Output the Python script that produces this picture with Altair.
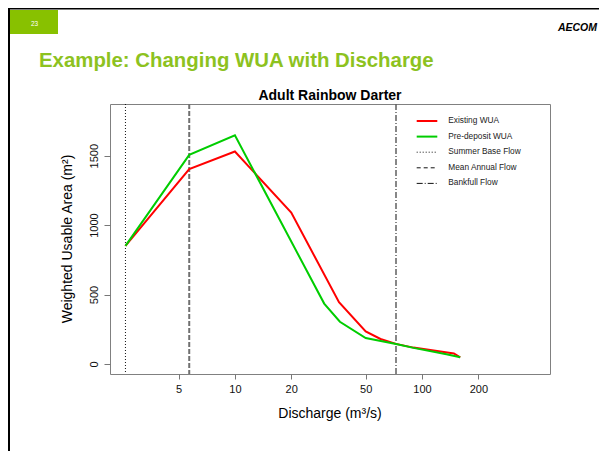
import altair as alt
import pandas as pd

# ---------------- data ----------------
existing_q = [2.6, 5.7, 10, 20, 36, 50, 60, 72.6, 90, 148, 160]
existing_wua = [850, 1403, 1530, 1090, 445, 235, 180, 145, 118, 76, 48]
predeposit_q = [2.6, 5.7, 10, 30, 36.4, 50, 72.6, 90, 135, 160]
predeposit_wua = [850, 1506, 1647, 435, 304, 187, 144, 116, 70, 48]
flow_names = ["Summer Base Flow", "Mean Annual  Flow", "Bankfull Flow"]
flow_q = [2.6, 5.7, 72.6]
legend_labels = ["Existing WUA", "Pre-deposit WUA", "Summer Base Flow",
                 "Mean Annual  Flow", "Bankfull Flow"]
x_ticks = [5, 10, 20, 50, 100, 200]
y_ticks = [0, 500, 1000, 1500]

FONT = "Liberation Sans"
W, H = 440, 270
PAD = {"left": 102, "top": 96, "right": 49, "bottom": 77}

x_scale = alt.Scale(type="log", domain=[2.15, 483], nice=False, zero=False)
y_scale = alt.Scale(domain=[-72, 1872], nice=False, zero=False)

x_axis = alt.Axis(values=x_ticks, format="d", title=None, grid=False, domain=False,
                  tickColor="#777777", tickSize=5, labelFontSize=11, labelColor="#111111",
                  labelFont=FONT, labelPadding=4, labelFlush=False, labelOverlap=False)
y_axis = alt.Axis(values=y_ticks, format="d", title=None, grid=False, domain=False,
                  tickColor="#777777", tickSize=6, labelFontSize=11, labelColor="#111111",
                  labelFont=FONT, labelAngle=270, labelAlign="center", labelBaseline="bottom",
                  labelPadding=5)

df_ex = pd.DataFrame({"q": existing_q, "wua": existing_wua})
df_pre = pd.DataFrame({"q": predeposit_q, "wua": predeposit_wua})
df_flow = pd.DataFrame({"q": flow_q, "name": flow_names})
dummy = pd.DataFrame({"a": [0]})

# axes carrier (invisible points)
axes_layer = alt.Chart(df_ex).mark_point(opacity=0).encode(
    x=alt.X("q:Q", scale=x_scale, axis=x_axis),
    y=alt.Y("wua:Q", scale=y_scale, axis=y_axis),
)

line_ex = alt.Chart(df_ex).mark_line(color="#FF0000", strokeWidth=2).encode(
    x=alt.X("q:Q", scale=x_scale), y=alt.Y("wua:Q", scale=y_scale))
line_pre = alt.Chart(df_pre).mark_line(color="#00CD00", strokeWidth=2).encode(
    x=alt.X("q:Q", scale=x_scale), y=alt.Y("wua:Q", scale=y_scale))

flow_styles = {
    "Summer Base Flow": dict(color="#111111", strokeWidth=1, strokeDash=[1, 2]),
    "Mean Annual  Flow": dict(color="#707070", strokeWidth=2, strokeDash=[5, 2]),
    "Bankfull Flow": dict(color="#606060", strokeWidth=1.5, strokeDash=[6, 2, 1, 2]),
}
flow_layers = []
for nm in flow_names:
    flow_layers.append(
        alt.Chart(df_flow).transform_filter(alt.datum.name == nm)
        .mark_rule(**flow_styles[nm]).encode(x=alt.X("q:Q", scale=x_scale))
    )

# legend (no box)
leg_styles = [
    dict(color="#FF0000", strokeWidth=2),
    dict(color="#00CD00", strokeWidth=2),
    dict(color="#111111", strokeWidth=1, strokeDash=[1, 2]),
    dict(color="#111111", strokeWidth=1, strokeDash=[4, 3]),
    dict(color="#111111", strokeWidth=1, strokeDash=[6, 2, 1, 2]),
]
legend_layers = []
for i, lab in enumerate(legend_labels):
    yy = 17 + i * 15.6
    legend_layers.append(alt.Chart(dummy).mark_rule(**leg_styles[i]).encode(
        x=alt.value(306.7), x2=alt.value(327.3), y=alt.value(yy)))
    legend_layers.append(alt.Chart(dummy).mark_text(
        align="left", baseline="middle", font=FONT, fontSize=8.3, color="#222222").encode(
        x=alt.value(338.3), y=alt.value(yy), text=alt.value(lab)))


def txt(s, x, y, **kw):
    return alt.Chart(dummy).mark_text(font=FONT, **kw).encode(
        x=alt.value(x), y=alt.value(y), text=alt.value(s))


deco = [
    txt("Adult Rainbow Darter", 220, -4, fontSize=14, fontWeight="bold",
        align="center", baseline="alphabetic", color="#000000"),
    txt("Discharge (m³/s)", 220, 314, fontSize=14, align="center",
        baseline="alphabetic", color="#000000"),
    txt("Weighted Usable Area (m²)", -38, 135, fontSize=14, align="center",
        baseline="alphabetic", angle=270, color="#000000"),
    # slide decorations
    alt.Chart(dummy).mark_rect(color="#88C100").encode(
        x=alt.value(-100), x2=alt.value(-52), y=alt.value(-94), y2=alt.value(-70)),
    txt("23", -75.5, -78, fontSize=6.5, align="center", baseline="alphabetic",
        color="#FFFFFF"),
    txt("Example: Changing WUA with Discharge", -71, -37.4, fontSize=20.4,
        fontWeight="bold", align="left", baseline="alphabetic", color="#8DC21F"),
    txt("AECOM", 487, -73.3, fontSize=10.5, fontWeight="bold", fontStyle="italic",
        align="right", baseline="alphabetic", color="#000000"),
    alt.Chart(dummy).mark_rule(color="#000000", strokeWidth=2).encode(
        x=alt.value(-102), x2=alt.value(489), y=alt.value(-95.5)),
    alt.Chart(dummy).mark_rule(color="#000000", strokeWidth=2).encode(
        x=alt.value(-101), y=alt.value(-96), y2=alt.value(347)),
]

chart = alt.layer(axes_layer, *flow_layers, line_ex, line_pre, *legend_layers, *deco).properties(
    width=W, height=H, padding=PAD, autosize=alt.AutoSizeParams(type="none"),
    background="#FFFFFF",
).configure_view(stroke="#808080", strokeWidth=1)

chart.save("out.html", embed_options={"renderer": "svg", "actions": False})
